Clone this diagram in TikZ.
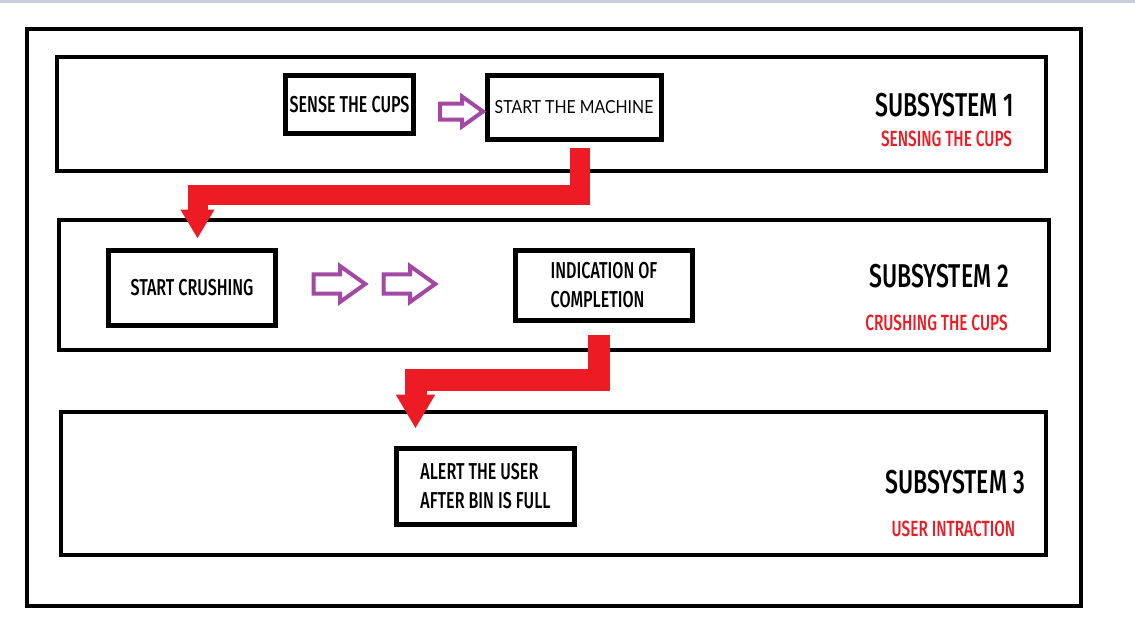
\documentclass[tikz,border=0pt]{standalone}
\usepackage{fontspec}
\setmainfont{Fira Sans Medium}[FakeStretch=0.7]
\newfontfamily\handfont{Lato}[FakeStretch=0.88]
\usepackage{tikz}
\usetikzlibrary{arrows.meta}
\definecolor{paintred}{HTML}{ED1C24}
\definecolor{paintpurple}{HTML}{A349A4}
\definecolor{bandgray}{HTML}{C8D0DC}

\begin{document}
\begin{tikzpicture}[x=1pt,y=-1pt,
    frame/.style={draw=black,line width=4pt},
    stepbox/.style={draw=black,line width=5pt,inner sep=0pt,align=left,font=\fontsize{23}{29}\selectfont},
    systitle/.style={inner sep=0pt,font=\fontsize{33}{36}\selectfont},
    sysnote/.style={inner sep=0pt,text=paintred,font=\fontsize{22}{24}\selectfont},
    redflow/.style={draw=paintred,line width=#1},
    pics/hollowarrow/.style={code={
        \draw[paintpurple,line width=4pt,line join=miter](-22,-8)--(0,-8)--(0,-15)--(21,0)--(0,15)--(0,8)--(-22,8)--cycle;}}]
                \useasboundingbox (0,0) rectangle (1135,643);
                \fill[bandgray](0,0) rectangle (1135,2.5);
                % Frames
                \draw[frame](27,29) rectangle (1081,606);
                \draw[frame](57,57) rectangle (1046,171);
                \draw[frame](59,220) rectangle (1049,350);
                \draw[frame](61,412) rectangle (1046,555);
                % Subsystem 1
                \node[stepbox,minimum width=128pt,minimum height=58pt](sense) at (349.5,104.5){SENSE THE CUPS};
                \node[stepbox,minimum width=174pt,minimum height=64pt,font=\handfont\fontsize{18}{22}\selectfont](machine) at (574,107.5){START THE MACHINE};
                \pic (hollow1) at (462,111.5) {hollowarrow};
                \node[systitle](title1) at (945,105){SUBSYSTEM 1};
                \node[sysnote](note1) at (946.5,139){SENSING THE CUPS};
                % Subsystem 2
                \node[stepbox,minimum width=167pt,minimum height=75pt](crush) at (192,288){START CRUSHING};
                \node[stepbox,minimum width=177pt,minimum height=70pt](indic) at (604,285.5){INDICATION OF\\COMPLETION};
                \pic[scale=1.2] (hollow2) at (340,284) {hollowarrow};
                \pic[scale=1.2] (hollow3) at (410,284) {hollowarrow};
                \node[systitle](title2) at (939,276.5){SUBSYSTEM 2};
                \node[sysnote](note2) at (936.5,322.5){CRUSHING THE CUPS};
                % Subsystem 3
                \node[stepbox,minimum width=178pt,minimum height=76pt](alert) at (485.5,486.5){ALERT THE USER\\AFTER BIN IS FULL};
                \node[systitle](title3) at (955,482){SUBSYSTEM 3};
                \node[sysnote](note3) at (953.5,529){USER INTRACTION};
                % Red flow arrows
                \coordinate (bend1) at (197.5,194.5);
                \draw[redflow=20pt,-{Triangle[width=32pt,length=29pt]}]([xshift=6pt,yshift=-6pt]machine.south)|-(bend1)--([xshift=5.5pt,yshift=9.5pt]crush.north);
                \coordinate (bend2) at (415.5,380);
                \draw[redflow=22pt,-{Triangle[width=37pt,length=34pt]}]([xshift=-5pt,yshift=-11.5pt]indic.south)|-(bend2)--([xshift=-70pt,yshift=17.5pt]alert.north);
            \end{tikzpicture}
\end{document}
